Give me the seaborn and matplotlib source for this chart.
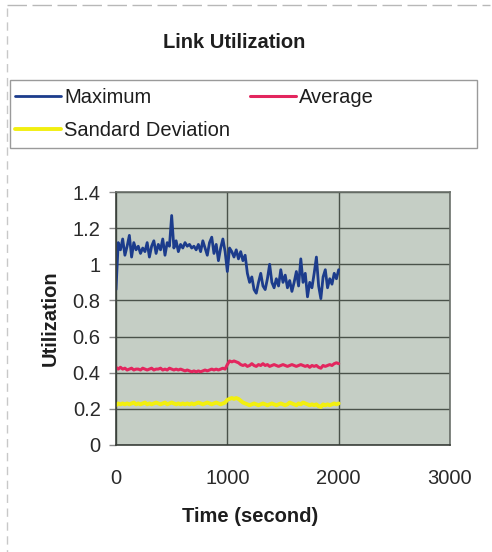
import numpy as np
import pandas as pd
import matplotlib
matplotlib.use("Agg")
import matplotlib.pyplot as plt
from matplotlib.lines import Line2D
from matplotlib.patches import Rectangle
import seaborn as sns

# Sample times (seconds)
time_s = list(range(0, 2001, 20))

maximum = [
    0.86, 1.12, 1.08, 1.14, 1.05, 1.10, 1.16, 1.04, 1.12, 1.08,
    1.10, 1.06, 1.09, 1.07, 1.12, 1.04, 1.10, 1.13, 1.06, 1.11,
    1.08, 1.14, 1.05, 1.12, 1.10, 1.27, 1.09, 1.13, 1.07, 1.11,
    1.09, 1.12, 1.10, 1.11, 1.09, 1.10, 1.08, 1.11, 1.07, 1.13,
    1.09, 1.05, 1.12, 1.15, 1.06, 1.11, 1.02, 1.09, 1.14, 1.07,
    0.96, 1.09, 1.07, 1.04, 1.08, 1.03, 1.07, 1.02, 1.05, 0.95,
    0.90, 0.93, 0.86, 0.84, 0.90, 0.95, 0.88, 0.86, 0.92, 1.00,
    0.90, 0.87, 0.92, 0.88, 0.97, 0.90, 0.94, 0.87, 0.91, 0.85,
    0.90, 0.96, 0.88, 1.03, 0.90, 0.95, 0.82, 0.90, 0.87, 0.95,
    1.04, 0.88, 0.81, 0.93, 0.97, 0.87, 0.92, 0.89, 0.95, 0.92,
    0.97,
]

average = [
    0.430, 0.420, 0.430, 0.420, 0.425, 0.415, 0.420, 0.425, 0.415, 0.420,
    0.420, 0.415, 0.425, 0.420, 0.415, 0.420, 0.425, 0.415, 0.420, 0.420,
    0.425, 0.415, 0.420, 0.415, 0.425, 0.420, 0.415, 0.420, 0.415, 0.420,
    0.415, 0.410, 0.415, 0.410, 0.405, 0.410, 0.405, 0.410, 0.405, 0.410,
    0.415, 0.410, 0.415, 0.420, 0.415, 0.420, 0.415, 0.420, 0.425, 0.420,
    0.445, 0.465, 0.460, 0.465, 0.460, 0.455, 0.445, 0.440, 0.445, 0.435,
    0.440, 0.450, 0.440, 0.435, 0.445, 0.440, 0.450, 0.440, 0.445, 0.435,
    0.440, 0.445, 0.440, 0.435, 0.440, 0.445, 0.440, 0.435, 0.440, 0.445,
    0.440, 0.435, 0.440, 0.445, 0.440, 0.435, 0.440, 0.430, 0.440, 0.435,
    0.440, 0.430, 0.425, 0.440, 0.435, 0.440, 0.445, 0.440, 0.450, 0.455,
    0.450,
]

std_dev = [
    0.220, 0.230, 0.225, 0.230, 0.225, 0.230, 0.225, 0.230, 0.235, 0.225,
    0.230, 0.225, 0.230, 0.235, 0.225, 0.230, 0.225, 0.230, 0.235, 0.230,
    0.225, 0.230, 0.235, 0.225, 0.230, 0.235, 0.230, 0.225, 0.230, 0.225,
    0.230, 0.225, 0.230, 0.225, 0.230, 0.225, 0.230, 0.235, 0.230, 0.225,
    0.230, 0.235, 0.230, 0.225, 0.230, 0.235, 0.230, 0.225, 0.230, 0.235,
    0.250, 0.255, 0.260, 0.255, 0.260, 0.255, 0.245, 0.235, 0.230, 0.225,
    0.220, 0.225, 0.230, 0.225, 0.220, 0.225, 0.230, 0.225, 0.220, 0.225,
    0.230, 0.225, 0.220, 0.225, 0.230, 0.225, 0.220, 0.225, 0.235, 0.230,
    0.225, 0.220, 0.230, 0.225, 0.235, 0.230, 0.225, 0.220, 0.225, 0.220,
    0.225, 0.215, 0.210, 0.225, 0.220, 0.225, 0.220, 0.225, 0.230, 0.225,
    0.230,
]

series_names = ["Maximum", "Average", "Sandard Deviation"]
series_colors = ["#1c3c8c", "#e3265e", "#f2ef10"]
series_widths = [2.0, 2.2, 2.8]

x_ticks = [0, 1000, 2000, 3000]
y_ticks = [0, 0.2, 0.4, 0.6, 0.8, 1, 1.2, 1.4]
y_tick_labels = ["0", "0.2", "0.4", "0.6", "0.8", "1", "1.2", "1.4"]

df = pd.DataFrame({
    "time": time_s * 3,
    "value": maximum + average + std_dev,
    "series": sum([[n] * len(time_s) for n in series_names], []),
})

sns.set_theme(style="white")
plt.rcParams["font.family"] = ["Liberation Sans", "DejaVu Sans"]

W, H = 492, 552
fig = plt.figure(figsize=(W / 100, H / 100), dpi=100)
fig.patch.set_facecolor("white")


def fx(px):
    return px / W


def fy(py):
    return 1 - py / H


ax = fig.add_axes([fx(116), fy(445), (450 - 116) / W, (445 - 192) / H])
ax.set_facecolor("#c5cec5")

for name, color, lw in zip(series_names, series_colors, series_widths):
    sns.lineplot(data=df[df["series"] == name], x="time", y="value",
                 color=color, linewidth=lw, ax=ax, label=name, legend=False)

ax.set_xlim(0, 3000)
ax.set_ylim(0, 1.4)
ax.set_xticks(x_ticks)
ax.set_xticklabels([str(t) for t in x_ticks])
ax.set_yticks(y_ticks)
ax.set_yticklabels(y_tick_labels)
ax.grid(True, color="#4a524a", linewidth=1.0)
ax.set_axisbelow(True)
ax.set_xlabel("")
ax.set_ylabel("")
for side, sp in ax.spines.items():
    sp.set_visible(True)
    sp.set_color("#3a3f3a" if side in ("left", "bottom") else "#6a706a")
    sp.set_linewidth(1.2)
ax.tick_params(axis="y", length=5, width=1, color="#8a8a8a", pad=6,
               labelsize=14.5, labelcolor="#2a2a2a", left=True)
ax.tick_params(axis="x", length=0, pad=17, labelsize=14.5, labelcolor="#2a2a2a")

# Titles and axis labels
fig.text(fx(234), fy(42), "Link Utilization", ha="center", va="center",
         fontsize=14.5, fontweight="bold", color="#1e1e1e")
fig.text(fx(250), fy(517), "Time (second)", ha="center", va="center",
         fontsize=14.5, fontweight="bold", color="#1e1e1e")
fig.text(fx(50), fy(318), "Utilization", ha="center", va="center",
         rotation=90, fontsize=14.5, fontweight="bold", color="#1e1e1e")

# Legend box and entries
fig.patches.append(Rectangle((fx(10), fy(148)), (477 - 10) / W, (148 - 80) / H,
                             transform=fig.transFigure, fill=False,
                             edgecolor="#9a9a9a", linewidth=1.0))
handles, labels = ax.get_legend_handles_labels()
order = [0, 2, 1]
leg = fig.legend([handles[i] for i in order], [labels[i] for i in order],
                 loc="upper left", bbox_to_anchor=(fx(15), fy(88)),
                 ncol=2, frameon=False, fontsize=14.5, handlelength=2.3,
                 handletextpad=0.15, columnspacing=0.97, labelspacing=0.7,
                 borderpad=0, borderaxespad=0)
for t in leg.get_texts():
    t.set_color("#1e1e1e")

# Outer chart frame (left and top edges)
fig.add_artist(Line2D([fx(7), fx(7)], [fy(8), fy(552)], transform=fig.transFigure,
                      color="#c8c8c8", linewidth=1.0, linestyle=(0, (6, 4))))
fig.add_artist(Line2D([fx(7), fx(490)], [fy(5), fy(5)], transform=fig.transFigure,
                      color="#b8b8b8", linewidth=1.0, linestyle=(0, (14, 4))))

fig.savefig("out.png", dpi=100)
